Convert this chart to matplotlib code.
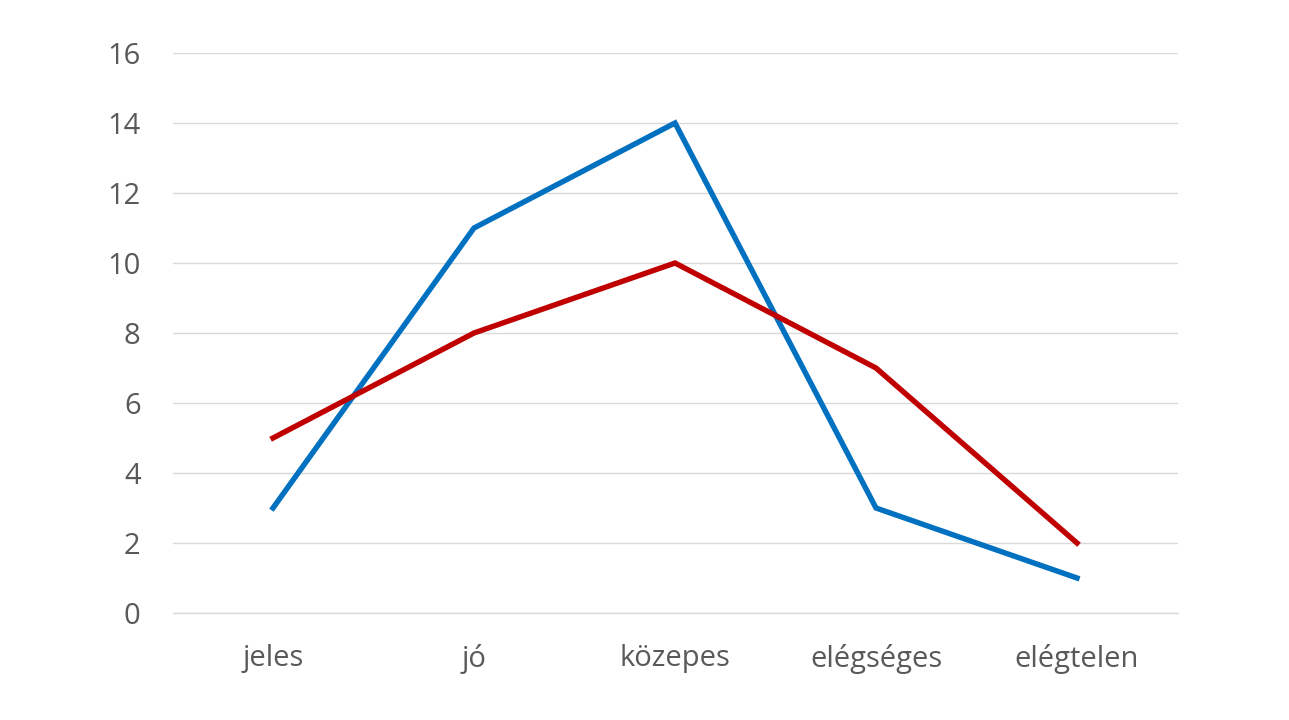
import matplotlib
matplotlib.use("Agg")
import matplotlib.pyplot as plt

categories = ["jeles", "jó", "közepes", "elégséges", "elégtelen"]
series_blue = [3, 11, 14, 3, 1]
series_red = [5, 8, 10, 7, 2]
yticks = [0, 2, 4, 6, 8, 10, 12, 14, 16]

plt.rcParams['font.family'] = ['Open Sans', 'DejaVu Sans']

W, H = 1289, 720
fig = plt.figure(figsize=(W / 100, H / 100), dpi=100)
left, right, top, bottom = 172.5, 1177.5, 53, 613
ax = fig.add_axes([left / W, 1 - bottom / H, (right - left) / W, (bottom - top) / H])

x = list(range(len(categories)))
ax.plot(x, series_blue, color="#0070C0", linewidth=3.9, solid_joinstyle="miter", zorder=3)
ax.plot(x, series_red, color="#C00000", linewidth=3.9, solid_joinstyle="miter", zorder=3)

ax.set_xlim(-0.5, len(categories) - 0.5)
ax.set_ylim(0, 16)
ax.set_yticks(yticks)
ax.set_xticks(x)
ax.set_xticklabels(categories)
ax.grid(axis="y", color="#D9D9D9", linewidth=1)
ax.set_axisbelow(True)
for s in ["top", "right", "left"]:
    ax.spines[s].set_visible(False)
ax.spines["bottom"].set_color("#D9D9D9")
ax.spines["bottom"].set_linewidth(1)
ax.tick_params(axis="both", length=0, labelsize=21, labelcolor="#595959")
ax.tick_params(axis="y", pad=23)
ax.tick_params(axis="x", pad=22)

fig.savefig("out.png", dpi=100)
